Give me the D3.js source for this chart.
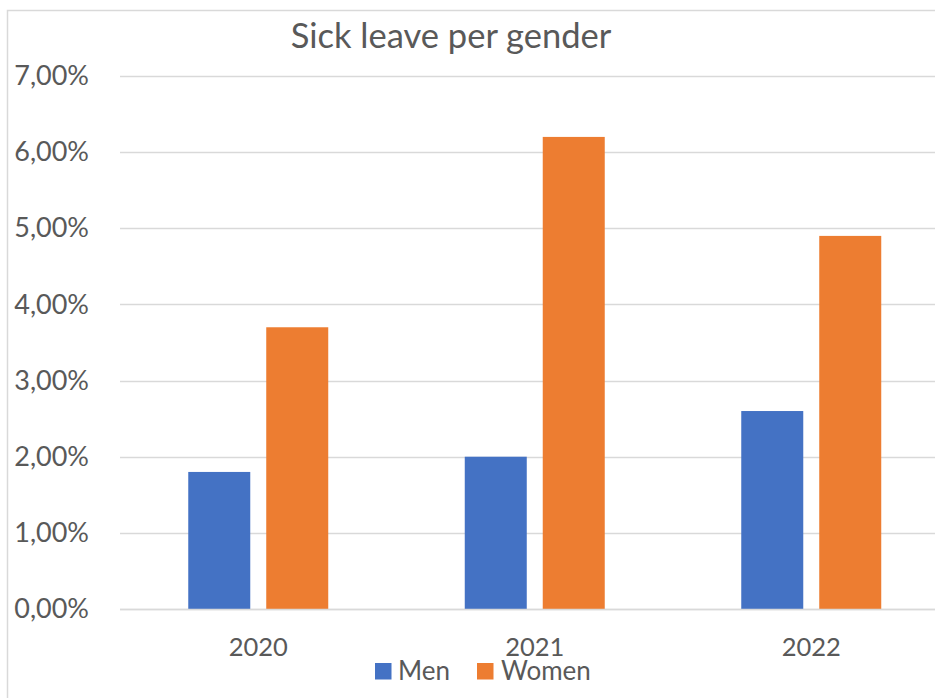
<!DOCTYPE html>
<html>
<head>
<meta charset="utf-8">
<script src="https://cdn.jsdelivr.net/npm/d3@7"></script>
<style>
  html, body { margin: 0; padding: 0; background: #ffffff; }
  svg { display: block; }
  text { font-family: Lato, "Open Sans", sans-serif; fill: #595959; }
</style>
</head>
<body>
<svg id="chart" width="935" height="698"></svg>
<script>
// Sick leave rate per year, split by gender
const years = ["2020", "2021", "2022"];
const seriesNames = ["Men", "Women"];
const men = [0.018, 0.020, 0.026];
const women = [0.037, 0.062, 0.049];
const yTicks = [0, 0.01, 0.02, 0.03, 0.04, 0.05, 0.06, 0.07];
const colors = ["#4472C4", "#ED7D31"];
const title = "Sick leave per gender";

const svg = d3.select("#chart");
const W = 935, H = 698;

// chart area frame (right and bottom edges run past the canvas)
svg.append("rect")
  .attr("x", 7.5).attr("y", 10.5)
  .attr("width", W + 20).attr("height", H + 20)
  .attr("fill", "none").attr("stroke", "#d9d9d9").attr("stroke-width", 1.5);

const plot = { left: 120, right: 949.5, top: 76, bottom: 609 };

const x0 = d3.scaleBand()
  .domain(years)
  .range([plot.left, plot.right])
  .paddingInner(0.4937)
  .paddingOuter(0.4937 / 2);

const x1 = d3.scaleBand()
  .domain(seriesNames)
  .range([0, x0.bandwidth()])
  .paddingInner(0.205)
  .paddingOuter(0);

const y = d3.scaleLinear()
  .domain([0, 0.07])
  .range([plot.bottom, plot.top]);

const fmt = v => d3.format(".2f")(v * 100).replace(".", ",") + "%";

// horizontal gridlines
svg.append("g")
  .selectAll("line")
  .data(yTicks)
  .join("line")
  .attr("x1", plot.left).attr("x2", W)
  .attr("y1", d => Math.round(y(d)) + 0.5)
  .attr("y2", d => Math.round(y(d)) + 0.5)
  .attr("stroke", "#d9d9d9").attr("stroke-width", 1.5);

// y axis labels
const yAxis = d3.axisLeft(y).tickValues(yTicks).tickFormat(fmt).tickSize(0).tickPadding(0);
const gy = svg.append("g").attr("transform", "translate(89,0)").call(yAxis);
gy.select(".domain").remove();
gy.selectAll("text")
  .attr("font-family", "Lato, sans-serif")
  .attr("font-size", 27)
  .attr("fill", "#595959");

// bars
const rows = years.map((yr, i) => ({ year: yr, values: [men[i], women[i]] }));
const groups = svg.append("g")
  .selectAll("g")
  .data(rows)
  .join("g")
  .attr("transform", d => `translate(${x0(d.year)},0)`);

groups.selectAll("rect")
  .data(d => seriesNames.map((s, k) => ({ series: s, value: d.values[k], k })))
  .join("rect")
  .attr("x", d => x1(d.series))
  .attr("width", x1.bandwidth())
  .attr("y", d => y(d.value))
  .attr("height", d => y(0) - y(d.value))
  .attr("fill", d => colors[d.k]);

// baseline
svg.append("line")
  .attr("x1", plot.left).attr("x2", W)
  .attr("y1", y(0) + 0.5).attr("y2", y(0) + 0.5)
  .attr("stroke", "#d9d9d9").attr("stroke-width", 1.5);

// x axis labels
const xAxis = d3.axisBottom(x0).tickSize(0).tickPadding(0);
const gx = svg.append("g").attr("transform", `translate(0,${plot.bottom + 47})`).call(xAxis);
gx.select(".domain").remove();
gx.selectAll("text")
  .attr("dy", 0)
  .attr("font-family", "Lato, sans-serif")
  .attr("font-size", 25.5)
  .attr("fill", "#595959");

// title
svg.append("text")
  .attr("x", 451).attr("y", 48)
  .attr("text-anchor", "middle")
  .attr("font-size", 34.5)
  .text(title);

// legend
const legendItems = [
  { name: seriesNames[0], color: colors[0], sx: 375, tx: 398 },
  { name: seriesNames[1], color: colors[1], sx: 477, tx: 501 }
];
const lg = svg.append("g");
lg.selectAll("rect")
  .data(legendItems)
  .join("rect")
  .attr("x", d => d.sx).attr("y", 663)
  .attr("width", 16.5).attr("height", 16.5)
  .attr("fill", d => d.color);
lg.selectAll("text")
  .data(legendItems)
  .join("text")
  .attr("x", d => d.tx).attr("y", 680)
  .attr("font-size", 26)
  .text(d => d.name);
</script>
</body>
</html>
